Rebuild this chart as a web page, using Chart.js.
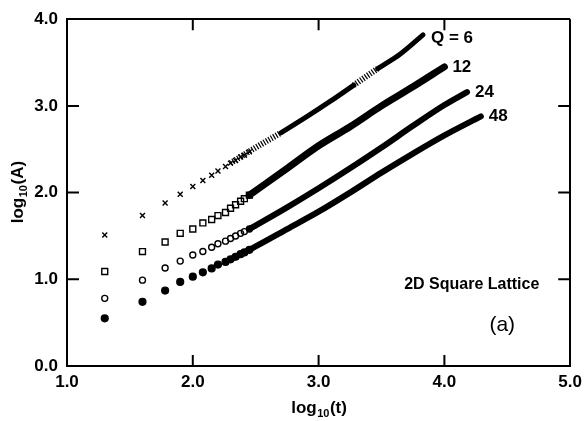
<!DOCTYPE html>
<html>
<head>
<meta charset="utf-8">
<script src="https://cdn.jsdelivr.net/npm/chart.js@4"></script>
<style>
  html, body { margin: 0; padding: 0; background: #fff; }
  #wrap { width: 588px; height: 421px; }
</style>
</head>
<body>
<div id="wrap"><canvas id="lattice" width="588" height="421"></canvas></div>
<script>
// log10(t) of the early samples that still show as separate markers
var logT = [1.30, 1.60, 1.78, 1.90, 2.00, 2.08, 2.15, 2.20, 2.26, 2.30, 2.34, 2.38, 2.41, 2.45];

// log10(A) for those samples, one list per Q
var q6Early  = [1.51, 1.735, 1.88, 1.98, 2.07, 2.14, 2.20, 2.25, 2.30, 2.34, 2.37, 2.41, 2.43, 2.47];
var q12Early = [1.09, 1.32, 1.43, 1.53, 1.58, 1.65, 1.69, 1.735, 1.77, 1.82, 1.86, 1.90, 1.93, 1.97];
var q24Early = [0.78, 0.99, 1.13, 1.21, 1.28, 1.32, 1.37, 1.41, 1.44, 1.47, 1.50, 1.53, 1.55, 1.58];
var q48Early = [0.55, 0.74, 0.87, 0.97, 1.03, 1.08, 1.125, 1.17, 1.20, 1.23, 1.26, 1.29, 1.31, 1.34];

// later samples overlap into a solid band, read along its middle
var q6BandX  = [2.30, 2.50, 2.70, 2.90, 3.10, 3.28, 3.47, 3.65, 3.83];
var q6BandY  = [2.34, 2.52, 2.69, 2.87, 3.06, 3.24, 3.43, 3.60, 3.82];
var q12BandX = [2.45, 2.75, 3.00, 3.25, 3.50, 3.75, 4.00];
var q12BandY = [1.97, 2.28, 2.54, 2.76, 3.00, 3.22, 3.45];
var q24BandX = [2.45, 2.75, 3.00, 3.25, 3.50, 3.75, 4.00, 4.18];
var q24BandY = [1.58, 1.83, 2.05, 2.28, 2.52, 2.77, 3.01, 3.16];
var q48BandX = [2.30, 2.50, 2.75, 3.00, 3.25, 3.50, 3.75, 4.00, 4.29];
var q48BandY = [1.23, 1.38, 1.58, 1.78, 2.00, 2.23, 2.45, 2.66, 2.88];

var seriesNames = ["Q = 6", "12", "24", "48"];
var xTicks = [1, 2, 3, 4, 5];
var yTicks = [0, 1, 2, 3, 4];

// stretches of the Q = 6 curve where single crosses still show
var q6Sparse = [[2.30, 2.70], [3.28, 3.47]];

var FONT = '"Liberation Sans", Arial, Helvetica, sans-serif';

function pts(xs, ys) {
    return xs.map(function (x, i) { return { x: x, y: ys[i] }; });
}

function inSparse(x) {
    return q6Sparse.some(function (r) { return x >= r[0] - 1e-6 && x < r[1] - 1e-6; });
}

function markerSet(data, style, radius, fill) {
    return {
        data: data,
        showLine: false,
        pointStyle: style,
        pointRadius: radius,
        pointHoverRadius: radius,
        pointBorderWidth: 1.4,
        pointBorderColor: "#000",
        pointBackgroundColor: fill ? "#000" : "rgba(0,0,0,0)",
    };
}

function bandSet(data, width) {
    return {
        data: data,
        showLine: true,
        borderColor: "#000",
        borderWidth: width,
        borderCapStyle: "round",
        borderJoinStyle: "round",
        cubicInterpolationMode: "monotone",
        pointRadius: 0,
        pointHoverRadius: 0,
        fill: false,
    };
}

var q6Band = bandSet(pts(q6BandX, q6BandY), 5);
q6Band.segment = {
    borderWidth: function (c) { return inSparse(c.p0.parsed.x) ? 6 : 5; },
    borderDash: function (c) { return inSparse(c.p0.parsed.x) ? [1.2, 1.6] : []; },
    borderCapStyle: function (c) { return inSparse(c.p0.parsed.x) ? "butt" : "round"; },
};

// only the first and last grid line are kept, so they close the box
function edgeColor(c) {
    var t = c.scale.ticks;
    return c.index === 0 || c.index === t.length - 1 ? "#000" : "rgba(0,0,0,0)";
}

// "log" + subscript "10" + "(arg)", centred on x, baseline y
function drawLog(ctx, x, y, arg) {
    var big = "bold 17px " + FONT, small = "bold 11px " + FONT;
    ctx.font = big;
    var w1 = ctx.measureText("log").width;
    var w3 = ctx.measureText("(" + arg + ")").width;
    ctx.font = small;
    var w2 = ctx.measureText("10").width;
    var left = x - (w1 + w2 + w3) / 2;
    ctx.textAlign = "left";
    ctx.textBaseline = "alphabetic";
    ctx.font = big;
    ctx.fillText("log", left, y);
    ctx.font = small;
    ctx.fillText("10", left + w1 + 0.5, y + 4);
    ctx.font = big;
    ctx.fillText("(" + arg + ")", left + w1 + w2 + 1, y);
}

// inward tick marks, axis titles and the text inside the plot
var framePlugin = {
    id: "frame",
    afterDraw: function (chart) {
        var ctx = chart.ctx, a = chart.chartArea;
        var xs = chart.scales.x, ys = chart.scales.y;
        ctx.save();
        ctx.setLineDash([]);
        ctx.strokeStyle = "#000";
        ctx.fillStyle = "#000";
        ctx.lineWidth = 2;

        xTicks.slice(1, -1).forEach(function (v) {
            var px = xs.getPixelForValue(v);
            ctx.beginPath();
            ctx.moveTo(px, a.bottom);
            ctx.lineTo(px, a.bottom - 11);
            ctx.moveTo(px, a.top);
            ctx.lineTo(px, a.top + 11);
            ctx.stroke();
        });
        yTicks.slice(1, -1).forEach(function (v) {
            var py = ys.getPixelForValue(v);
            ctx.beginPath();
            ctx.moveTo(a.left, py);
            ctx.lineTo(a.left + 12, py);
            ctx.moveTo(a.right, py);
            ctx.lineTo(a.right - 12, py);
            ctx.stroke();
        });

        drawLog(ctx, (a.left + a.right) / 2, 413, "t");
        ctx.save();
        ctx.translate(23, (a.top + a.bottom) / 2);
        ctx.rotate(-Math.PI / 2);
        drawLog(ctx, 0, 0, "A");
        ctx.restore();

        var ends = [q6Band.data, chart.data.datasets[5].data, chart.data.datasets[6].data, chart.data.datasets[7].data];
        ctx.font = "bold 17px " + FONT;
        ctx.textAlign = "left";
        ctx.textBaseline = "middle";
        ends.forEach(function (d, i) {
            var last = d[d.length - 1];
            var dy = i === 0 ? 4 : 0;
            ctx.fillText(seriesNames[i], xs.getPixelForValue(last.x) + 8, ys.getPixelForValue(last.y) + dy);
        });

        ctx.font = "bold 16px " + FONT;
        ctx.fillText("2D Square Lattice", xs.getPixelForValue(3.68), ys.getPixelForValue(0.94));
        ctx.font = "21px " + FONT;
        ctx.textAlign = "center";
        ctx.fillText("(a)", xs.getPixelForValue(4.46), ys.getPixelForValue(0.47));
        ctx.restore();
    },
};

document.addEventListener("DOMContentLoaded", function () {
    var tickFont = { family: FONT, size: 17, weight: "bold" };
    var boxGrid = { display: true, drawTicks: false, drawOnChartArea: true, lineWidth: 2, color: edgeColor };

    var data = {
        datasets: [
            markerSet(pts(logT, q6Early), "crossRot", 3.5, false),
            markerSet(pts(logT, q12Early), "rect", 4.2, false),
            markerSet(pts(logT, q24Early), "circle", 3, false),
            markerSet(pts(logT, q48Early), "circle", 3.4, true),
            q6Band,
            bandSet(pts(q12BandX, q12BandY), 7),
            bandSet(pts(q24BandX, q24BandY), 6),
            bandSet(pts(q48BandX, q48BandY), 6),
        ],
    };

    var options = {
        responsive: false,
        animation: false,
        devicePixelRatio: 1,
        layout: { padding: { top: 14, right: 13, left: 0, bottom: 0 } },
        plugins: {
            legend: { display: false },
            tooltip: { enabled: false },
        },
        scales: {
            x: {
                type: "linear",
                min: 1,
                max: 5,
                grid: boxGrid,
                border: { display: true, color: "#000", width: 2 },
                ticks: {
                    stepSize: 1,
                    color: "#000",
                    font: tickFont,
                    padding: 6,
                    maxRotation: 0,
                    callback: function (v) { return v.toFixed(1); },
                },
                afterFit: function (s) { s.height = 55; },
            },
            y: {
                type: "linear",
                min: 0,
                max: 4,
                grid: boxGrid,
                border: { display: true, color: "#000", width: 2 },
                ticks: {
                    stepSize: 1,
                    color: "#000",
                    font: tickFont,
                    padding: 9,
                    callback: function (v) { return v.toFixed(1); },
                },
                afterFit: function (s) { s.width = 67; },
            },
        },
    };

    var ctx = document.getElementById("lattice").getContext("2d");

    new Chart(ctx, {
        type: "scatter",
        data: data,
        options: options,
        plugins: [framePlugin],
    });
});
</script>
</body>
</html>
